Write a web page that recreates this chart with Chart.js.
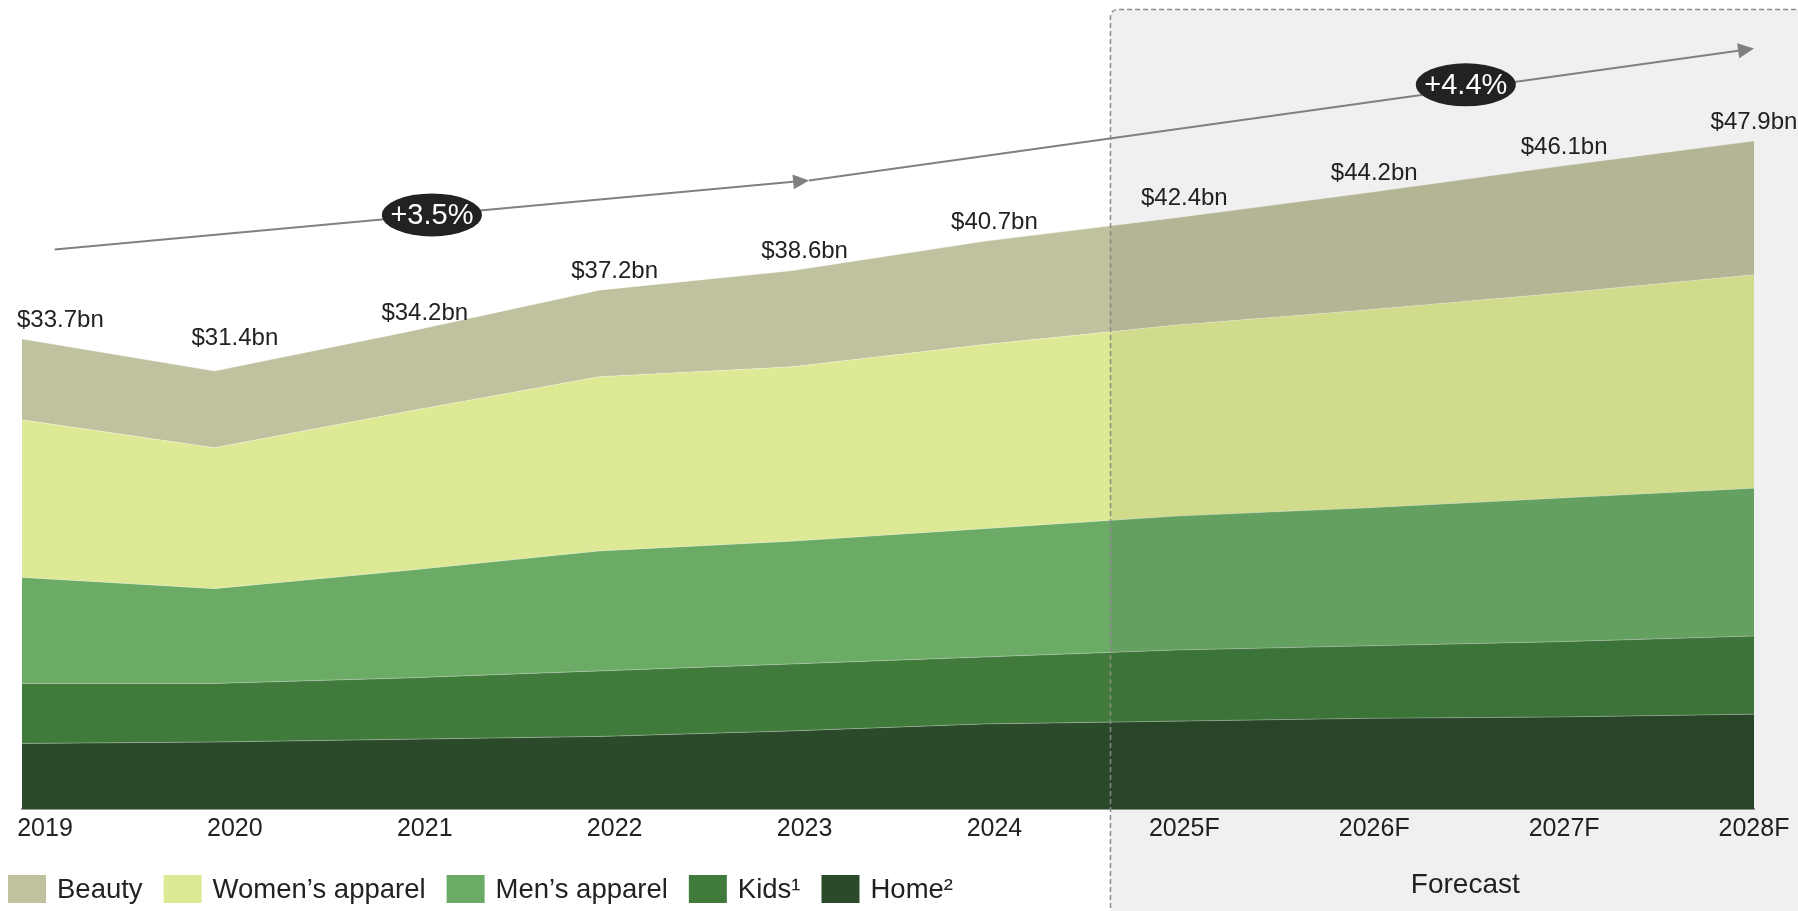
<!DOCTYPE html>
<html><head><meta charset="utf-8">
<script src="https://cdn.jsdelivr.net/npm/chart.js@4/dist/chart.umd.min.js"></script>
<style>html,body{margin:0;padding:0;background:#fff;overflow:hidden}canvas{display:block}</style>
</head><body>
<canvas id="c" width="1798" height="911"></canvas>
<script>
const categories = ['2019','2020','2021','2022','2023','2024','2025F','2026F','2027F','2028F'];
const totals = [33.7,31.4,34.2,37.2,38.6,40.7,42.4,44.2,46.1,47.9];
const home   = [4.7,4.8,5.0,5.2,5.6,6.1,6.3,6.5,6.6,6.8];
const kids   = [4.3,4.2,4.4,4.7,4.8,4.8,5.1,5.2,5.4,5.6];
const mens   = [7.6,6.8,7.7,8.6,8.8,9.2,9.6,9.9,10.3,10.6];
const womens = [11.3,10.1,11.4,12.5,12.5,13.2,13.7,14.2,14.7,15.3];
const beauty = [5.8,5.5,5.7,6.2,6.9,7.4,7.7,8.4,9.1,9.6];
const seriesNames = ['Beauty','Women\u2019s apparel','Men\u2019s apparel','Kids\u00b9','Home\u00b2'];
const cagrLabels = ['+3.5%','+4.4%'];
const forecastLabel = 'Forecast';

const FONT = '"Liberation Sans", Arial, sans-serif';
const COLORS = {beauty:'#c0c19f', women:'#dee995', men:'#6bab66', kids:'#407b3c', home:'#2b4a2a'};
const legendColors = [COLORS.beauty, COLORS.women, COLORS.men, COLORS.kids, COLORS.home];

function ds(label, data, color, fill){
  return {label, data, backgroundColor: color, borderColor: 'rgba(255,255,255,0.3)', borderWidth: 1,
    fill, pointRadius: 0, tension: 0, xAxisID: 'x', yAxisID: 'y'};
}

const overlay = {
  id: 'overlay',
  afterDatasetsDraw(chart){
    const {ctx, scales:{x}} = chart;
    const bx = Math.round(x.getPixelForValue(5.653)) + 0.5;
    const top = 9.5, r = 7;
    ctx.save();
    ctx.beginPath();
    ctx.moveTo(bx, 940); ctx.lineTo(bx, top + r);
    ctx.arcTo(bx, top, bx + r, top, r);
    ctx.lineTo(1820, top); ctx.lineTo(1820, 940); ctx.closePath();
    ctx.fillStyle = 'rgba(0,0,0,0.059)'; ctx.fill();
    ctx.setLineDash([5,3]); ctx.strokeStyle = '#8a8a8a'; ctx.lineWidth = 1.5; ctx.stroke();
    ctx.restore();
  },
  afterDraw(chart){
    const {ctx, chartArea, scales:{x, y, xl}} = chart;
    ctx.save();
    // value labels
    ctx.fillStyle = '#222';
    ctx.font = '24px ' + FONT;
    ctx.textBaseline = 'middle';
    const n = totals.length;
    for (let i = 0; i < n; i++){
      const py = y.getPixelForValue(totals[i]);
      let off = 19;
      if (i > 0 && i < n-1 && totals[i] < totals[i-1] && totals[i] < totals[i+1]) off = 33;
      const txt = '$' + totals[i].toFixed(1) + 'bn';
      if (i === 0){ ctx.textAlign = 'left'; ctx.fillText(txt, chartArea.left - 5, py - off); }
      else { ctx.textAlign = 'center'; ctx.fillText(txt, xl.getPixelForValue(i), py - off); }
    }
    // CAGR arrows
    const anchors = [[0.17,40.12],[4.09,45.07],[9.0,54.52]];
    const P = a => [x.getPixelForValue(a[0]), y.getPixelForValue(a[1])];
    const p = anchors.map(P);
    ctx.strokeStyle = '#808080'; ctx.fillStyle = '#808080'; ctx.lineWidth = 2;
    function arrow(a, b){
      const ang = Math.atan2(b[1]-a[1], b[0]-a[0]);
      const L = 16, W = 7.5;
      const bx = b[0] - L*Math.cos(ang), by = b[1] - L*Math.sin(ang);
      ctx.beginPath(); ctx.moveTo(a[0], a[1]); ctx.lineTo(bx, by); ctx.stroke();
      ctx.beginPath(); ctx.moveTo(b[0], b[1]);
      ctx.lineTo(bx + W*Math.sin(ang), by - W*Math.cos(ang));
      ctx.lineTo(bx - W*Math.sin(ang), by + W*Math.cos(ang));
      ctx.closePath(); ctx.fill();
    }
    arrow(p[0], p[1]); arrow(p[1], p[2]);
    const lerp = (a,b,t) => [a[0]+(b[0]-a[0])*t, a[1]+(b[1]-a[1])*t];
    const c2 = lerp(p[1],p[2],0.695);
    const centers = [lerp(p[0],p[1],0.5), [c2[0], c2[1] - 4]];
    centers.forEach((c, i) => {
      ctx.beginPath(); ctx.ellipse(c[0], c[1], 50, 21.5, 0, 0, Math.PI*2);
      ctx.fillStyle = '#222'; ctx.fill();
      ctx.fillStyle = '#fff'; ctx.font = '500 29px ' + FONT;
      ctx.textAlign = 'center'; ctx.textBaseline = 'middle';
      ctx.fillText(cagrLabels[i], c[0], c[1] + 1);
    });
    // Forecast label
    ctx.fillStyle = '#222'; ctx.font = '500 28px ' + FONT;
    ctx.textAlign = 'center'; ctx.textBaseline = 'middle';
    ctx.fillText(forecastLabel, x.getPixelForValue(7.5), 885);
    // legend
    ctx.font = '27.5px ' + FONT; ctx.textAlign = 'left'; ctx.textBaseline = 'middle';
    let lx = 8;
    const ly = 875, bw = 38, bh = 28;
    seriesNames.forEach((name, i) => {
      ctx.fillStyle = legendColors[i];
      ctx.fillRect(lx, ly, bw, bh);
      ctx.fillStyle = '#222';
      ctx.fillText(name, lx + bw + 11, ly + bh/2 + 1);
      lx += bw + 11 + ctx.measureText(name).width + 21;
    });
    ctx.restore();
  }
};

new Chart(document.getElementById('c'), {
  type: 'line',
  data: {
    labels: categories,
    datasets: [
      ds(seriesNames[4], home, COLORS.home, 'origin'),
      ds(seriesNames[3], kids, COLORS.kids, '-1'),
      ds(seriesNames[2], mens, COLORS.men, '-1'),
      ds(seriesNames[1], womens, COLORS.women, '-1'),
      ds(seriesNames[0], beauty, COLORS.beauty, '-1')
    ]
  },
  options: {
    responsive: false,
    animation: false,
    events: [],
    layout: {padding: {left: 22, right: 44, top: 14, bottom: 62}},
    plugins: {legend: {display: false}, tooltip: {enabled: false}},
    scales: {
      x: {type: 'category', display: false, offset: false},
      xl: {
        type: 'linear', position: 'bottom', min: -0.121, max: 9,
        afterBuildTicks: axis => { axis.ticks = categories.map((_, i) => ({value: i})); },
        ticks: {autoSkip: false, maxRotation: 0, padding: 5, color: '#222',
          font: {family: FONT, size: 25}, callback: v => categories[v]},
        grid: {display: false, drawTicks: false},
        border: {display: true, color: '#9a9a9a', width: 2}
      },
      y: {stacked: true, display: false, min: 0, max: 57}
    }
  },
  plugins: [overlay]
});
</script>
</body></html>
